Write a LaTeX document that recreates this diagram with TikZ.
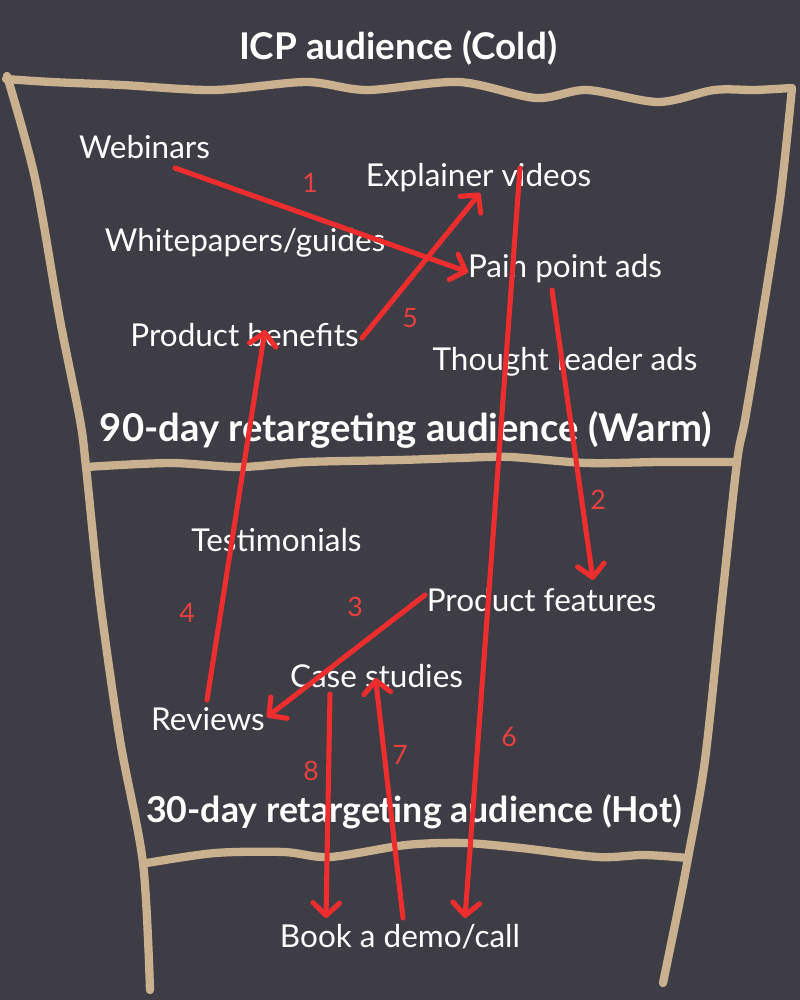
\documentclass[tikz,border=0pt]{standalone}
\usepackage{fontspec}
\setmainfont{Lato}
\usetikzlibrary{arrows.meta}
\definecolor{bgc}{HTML}{3E3D46}
\definecolor{tan}{HTML}{C9B08F}
\definecolor{arr}{HTML}{EE2E2E}
\definecolor{numc}{HTML}{E8403F}
\tikzset{
  funnel/.style={draw=tan, line width=5.9pt, line cap=round, line join=round},
  ttl/.style={text=white, font=\bfseries, inner sep=0pt},
  item/.style={text=white, font=\fontsize{22.4}{26}\selectfont, inner sep=0pt},
  num/.style={text=numc, font=\fontsize{19}{22}\selectfont, inner sep=0pt},
  flow/.style={draw=arr, line width=3.6pt, line cap=round,
    -{Straight Barb[length=9pt, width=19pt, round]}}
}
\begin{document}
\begin{tikzpicture}[x=0.025cm, y=-0.025cm]
\useasboundingbox (0,0) rectangle (800,1000);
\fill[bgc] (0,0) rectangle (800,1000);
% funnel outline
\draw[funnel] plot[smooth, tension=0.5] coordinates {(6,79) (51,82) (122,85) (214,90) (306,82) (367,90) (459,82) (536,98) (587,90) (658,102) (714,90) (755,90) (791,88)};
\draw[funnel] plot[smooth, tension=0.5] coordinates {(7,76) (35,178) (60,320) (80,420) (86,467) (100,600) (120,740) (143,863) (150,990)};
\draw[funnel] plot[smooth, tension=0.5] coordinates {(792,88) (780,200) (760,330) (745,420) (737,462) (722,600) (705,760) (688,858) (678,910) (663,983)};
\draw[funnel] plot[smooth, tension=0.5] coordinates {(86,467) (170,463) (240,467) (306,462) (400,460) (459,458) (510,457) (587,463) (660,462) (737,462)};
\draw[funnel] plot[smooth, tension=0.5] coordinates {(147,863) (215,853) (284,852) (330,857) (406,845) (464,843) (521,848) (598,857) (644,855) (688,858)};
% titles
\node[ttl, font=\fontsize{26.2}{30}\selectfont\bfseries] (cold) at (398,48) {ICP audience (Cold)};
\node[ttl, font=\fontsize{27.2}{31}\selectfont\bfseries] (warm) at (406,430) {90-day retargeting audience (Warm)};
\node[ttl, font=\fontsize{25.4}{29}\selectfont\bfseries] (hot) at (414,812) {30-day retargeting audience (Hot)};
% items
\node[item] (web) at (144.5,147) {Webinars};
\node[item] (expl) at (478.5,178) {Explainer videos};
\node[item] (white) at (245,243) {Whitepapers/guides};
\node[item] (pain) at (565,269) {Pain point ads};
\node[item] (ben) at (244.5,335) {Product benefits};
\node[item] (thought) at (565,362) {Thought leader ads};
\node[item] (test) at (276.5,540) {Testimonials};
\node[item] (feat) at (541.5,600) {Product features};
\node[item] (case) at (376.5,676) {Case studies};
\node[item] (rev) at (208,719) {Reviews};
\node[item] (demo) at (400,937) {Book a demo/call};
% arrows
\draw[flow] ([shift={(30.5,21)}]web.center) -- ([shift={(-97,3)}]pain.center);
\draw[flow] ([shift={(-13,21)}]pain.center) -- ([shift={(51.5,-20)}]feat.center);
\draw[flow] ([shift={(-116.5,-5)}]feat.center) -- ([shift={(59,-2)}]rev.center);
\draw[flow] ([shift={(-1,-19)}]rev.center) -- ([shift={(20.5,-5)}]ben.center);
\draw[flow] ([shift={(117.5,3)}]ben.center) -- ([shift={(1.5,15)}]expl.center);
\draw[flow] ([shift={(41.5,-10)}]expl.center) -- ([shift={(65,-19)}]demo.center);
\draw[flow] ([shift={(3,-19)}]demo.center) -- ([shift={(-1,2)}]case.center);
\draw[flow] ([shift={(-46.5,18)}]case.center) -- ([shift={(-74,-19)}]demo.center);
% numbers
\node[num] (n1) at (310,183) {1};
\node[num] (n5) at (410,318) {5};
\node[num] (n2) at (598,500) {2};
\node[num] (n3) at (355,607) {3};
\node[num] (n4) at (187,613) {4};
\node[num] (n6) at (509,737) {6};
\node[num] (n7) at (400,755) {7};
\node[num] (n8) at (311,771) {8};
\end{tikzpicture}
\end{document}
